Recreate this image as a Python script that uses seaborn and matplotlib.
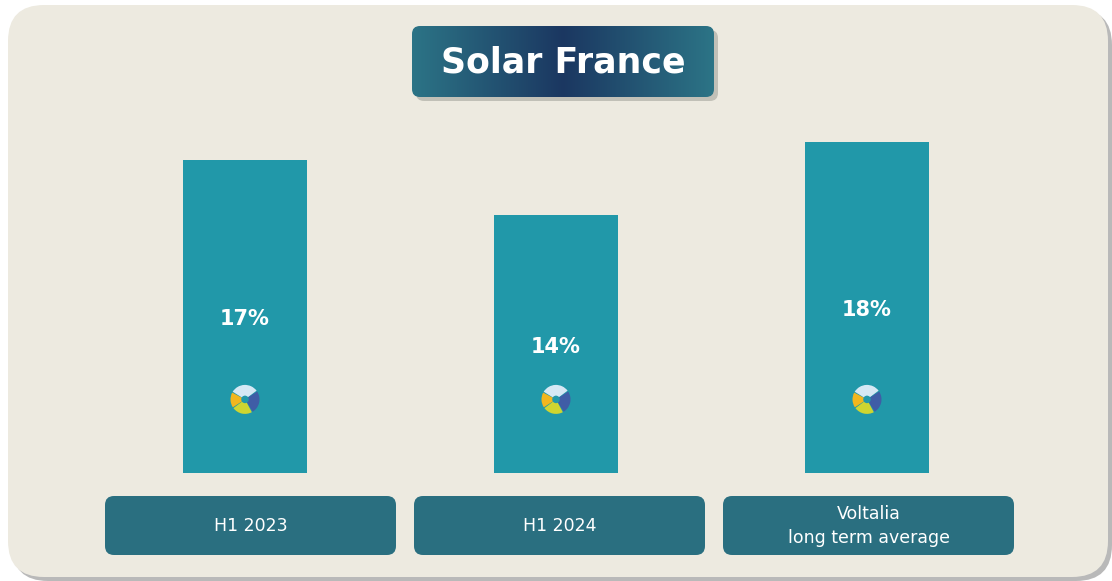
import numpy as np
import pandas as pd
import seaborn as sns
import matplotlib.pyplot as plt
import matplotlib.transforms as mtransforms
from matplotlib.patches import FancyBboxPatch, Wedge, Circle
from matplotlib.colors import LinearSegmentedColormap

# Data
categories = ["H1 2023", "H1 2024", "Voltalia\nlong term average"]
values = [17, 14, 18]
pct_labels = ["17%", "14%", "18%"]
title = "Solar France"

df = pd.DataFrame({"period": categories, "load_factor": values})

# Colours
panel_col = "#EDEAE0"
bar_col = "#2198A9"
box_col = "#2A6F80"

W, H = 1112, 581
fig = plt.figure(figsize=(W / 100, H / 100), dpi=100, facecolor="white")

# Background overlay in pixel coordinates (y downwards)
bg = fig.add_axes([0, 0, 1, 1], zorder=0)
bg.set_xlim(0, W)
bg.set_ylim(H, 0)
bg.axis("off")

# panel + shadow
bg.add_patch(FancyBboxPatch((12, 9), 1100, 572, boxstyle="round,pad=0,rounding_size=36",
                            fc="#A8A8A8", ec="none", alpha=0.8))
bg.add_patch(FancyBboxPatch((8, 5), 1100, 572, boxstyle="round,pad=0,rounding_size=36",
                            fc=panel_col, ec="none"))

# Bar chart axes
ax = fig.add_axes([89.5 / W, (H - 473) / H, 933 / W, 368 / H], zorder=1)
ax.patch.set_alpha(0)
sns.barplot(data=df, x="period", y="load_factor", ax=ax, color=bar_col,
            saturation=1, width=0.4)
ax.set_xlim(-0.5, 2.5)
ax.set_ylim(0, 20)
ax.axis("off")

for i, (v, lab) in enumerate(zip(values, pct_labels)):
    ax.text(i, v / 2 - 0.15, lab, ha="center", va="center", color="white",
            fontsize=15, fontweight="bold")
    # small logo
    tr = fig.dpi_scale_trans + mtransforms.ScaledTranslation(i, 4, ax.transData)
    r = 0.145
    for (t1, t2, c) in [(35, 150, "#D5E8F4"), (-60, 35, "#3F5DA6"),
                        (215, 300, "#CFD530"), (150, 215, "#F2B61E")]:
        ax.add_patch(Wedge((0, 0), r, t1 + 2, t2 - 2, transform=tr, fc=c, ec="none"))
    ax.add_patch(Circle((0, 0), r * 0.26, transform=tr, fc=bar_col, ec="none"))

# Category boxes under bars
for i, cat in enumerate(categories):
    left = 105 + i * 309
    bg.add_patch(FancyBboxPatch((left, 496), 291, 59,
                                boxstyle="round,pad=0,rounding_size=9",
                                fc=box_col, ec="none"))
    bg.text(left + 145.5, 526, cat, ha="center", va="center", color="white",
            fontsize=12.5, linespacing=1.45)

# Title box with gradient
tx, ty, tw, th = 412, 26, 302, 71
bg.add_patch(FancyBboxPatch((tx + 4, ty + 4), tw, th, boxstyle="round,pad=0,rounding_size=8",
                            fc="#A5A59C", ec="none", alpha=0.6))
clip = FancyBboxPatch((tx, ty), tw, th, boxstyle="round,pad=0,rounding_size=8",
                      fc="none", ec="none")
bg.add_patch(clip)
cmap = LinearSegmentedColormap.from_list("ttl", ["#2C7486", "#1B3761", "#2C7486"])
grad = np.linspace(0, 1, 256).reshape(1, -1)
im = bg.imshow(grad, cmap=cmap, extent=[tx, tx + tw, ty + th, ty], aspect="auto",
               interpolation="bilinear", zorder=2)
im.set_clip_path(clip)
bg.text(tx + tw / 2, ty + th / 2 + 1, title, ha="center", va="center", color="white",
        fontsize=25, fontweight="bold", zorder=3)
bg.set_xlim(0, W)
bg.set_ylim(H, 0)

fig.savefig("out.png", dpi=100, facecolor="white")
